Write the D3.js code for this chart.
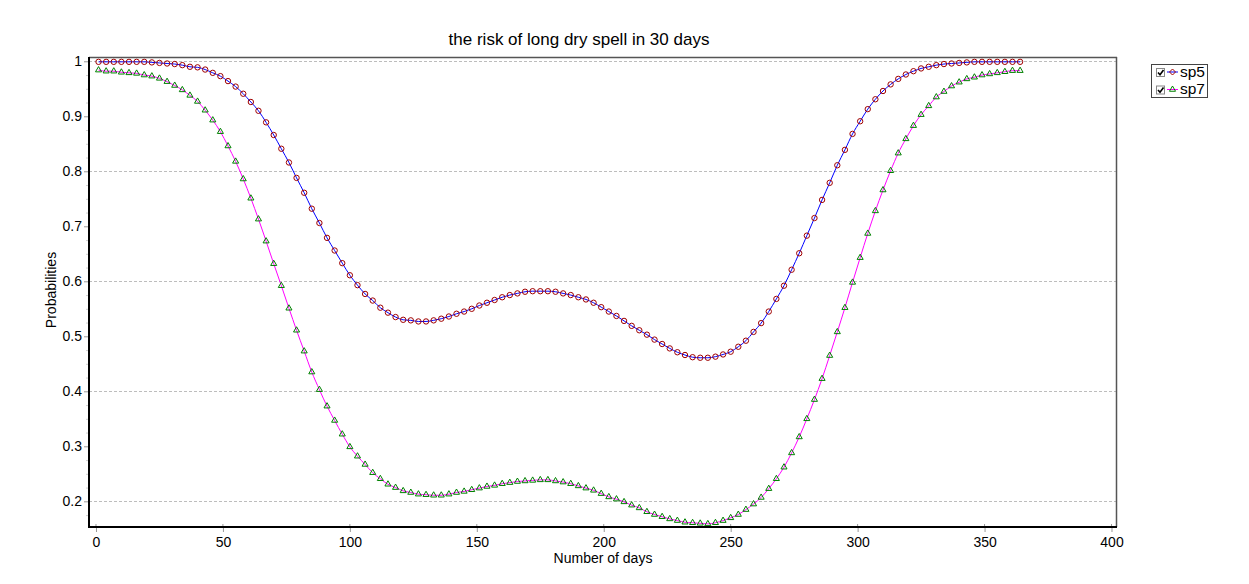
<!DOCTYPE html>
<html>
<head>
<meta charset="utf-8">
<script src="https://cdn.jsdelivr.net/npm/d3@7"></script>
<style>
  body { margin: 0; background: #fff; }
  text { font-family: "Liberation Sans", Arial, sans-serif; fill: #000; }
</style>
</head>
<body>
<div id="chart"></div>
<script>

////////////////////
// DATA

var days = [1, 4, 7, 10, 13, 16, 19, 22, 25, 28, 31, 34, 37, 40, 43, 46, 49, 52, 55, 58,
  61, 64, 67, 70, 73, 76, 79, 82, 85, 88, 91, 94, 97, 100, 103, 106, 109, 112, 115, 118,
  121, 124, 127, 130, 133, 136, 139, 142, 145, 148, 151, 154, 157, 160, 163, 166, 169, 172, 175, 178,
  181, 184, 187, 190, 193, 196, 199, 202, 205, 208, 211, 214, 217, 220, 223, 226, 229, 232, 235, 238,
  241, 244, 247, 250, 253, 256, 259, 262, 265, 268, 271, 274, 277, 280, 283, 286, 289, 292, 295, 298,
  301, 304, 307, 310, 313, 316, 319, 322, 325, 328, 331, 334, 337, 340, 343, 346, 349, 352, 355, 358,
  361, 364];

var sp5 = [0.999, 0.999, 0.999, 0.999, 0.999, 0.999, 0.999, 0.998, 0.997, 0.996, 0.995, 0.993, 0.990, 0.989, 0.985, 0.979, 0.973, 0.964, 0.954, 0.941,
  0.926, 0.910, 0.889, 0.866, 0.841, 0.816, 0.788, 0.761, 0.732, 0.706, 0.679, 0.656, 0.633, 0.611, 0.593, 0.577, 0.565, 0.552, 0.543, 0.535,
  0.530, 0.529, 0.527, 0.527, 0.529, 0.532, 0.536, 0.541, 0.545, 0.550, 0.556, 0.561, 0.566, 0.571, 0.575, 0.578, 0.581, 0.582, 0.582, 0.582,
  0.581, 0.578, 0.575, 0.571, 0.567, 0.561, 0.553, 0.545, 0.537, 0.528, 0.519, 0.511, 0.503, 0.494, 0.486, 0.478, 0.471, 0.466, 0.462, 0.461,
  0.461, 0.463, 0.467, 0.472, 0.481, 0.492, 0.508, 0.524, 0.545, 0.568, 0.592, 0.621, 0.651, 0.683, 0.715, 0.748, 0.779, 0.811, 0.839, 0.868,
  0.891, 0.913, 0.931, 0.946, 0.958, 0.968, 0.976, 0.982, 0.987, 0.990, 0.993, 0.995, 0.996, 0.997, 0.998, 0.999, 0.999, 0.999, 0.999, 0.999,
  0.999, 0.999];

var sp7 = [0.984, 0.982, 0.982, 0.980, 0.979, 0.978, 0.975, 0.973, 0.969, 0.963, 0.956, 0.948, 0.938, 0.927, 0.911, 0.893, 0.872, 0.846, 0.818, 0.786,
  0.751, 0.713, 0.673, 0.632, 0.592, 0.551, 0.511, 0.473, 0.435, 0.403, 0.373, 0.347, 0.322, 0.299, 0.282, 0.267, 0.252, 0.241, 0.231, 0.225,
  0.219, 0.216, 0.213, 0.212, 0.211, 0.211, 0.213, 0.216, 0.218, 0.221, 0.224, 0.227, 0.229, 0.232, 0.234, 0.236, 0.237, 0.238, 0.239, 0.239,
  0.237, 0.235, 0.232, 0.228, 0.224, 0.220, 0.214, 0.208, 0.204, 0.199, 0.193, 0.188, 0.181, 0.176, 0.172, 0.168, 0.165, 0.162, 0.161, 0.160,
  0.159, 0.161, 0.165, 0.170, 0.176, 0.185, 0.195, 0.207, 0.223, 0.241, 0.262, 0.288, 0.317, 0.350, 0.385, 0.423, 0.465, 0.508, 0.552, 0.598,
  0.643, 0.687, 0.728, 0.766, 0.801, 0.833, 0.859, 0.883, 0.903, 0.919, 0.935, 0.945, 0.955, 0.962, 0.968, 0.971, 0.975, 0.977, 0.979, 0.981,
  0.983, 0.983];

var xTicks = [0, 50, 100, 150, 200, 250, 300, 350, 400];
var yTicks = [0.2, 0.3, 0.4, 0.5, 0.6, 0.7, 0.8, 0.9, 1];
var yMinorTicks = [0.175, 0.225, 0.25, 0.275, 0.325, 0.35, 0.375, 0.425, 0.45, 0.475, 0.525, 0.55, 0.575,
  0.625, 0.65, 0.675, 0.725, 0.75, 0.775, 0.825, 0.85, 0.875, 0.925, 0.95, 0.975];
var yGrid = [0.2, 0.4, 0.6, 0.8, 1];
var seriesNames = ["sp5", "sp7"];

////////////////////
// LAYOUT

var width = 1249, height = 584;
var margin = {left: 89, top: 57};
var w = 1028, h = 470;

var x = d3.scaleLinear().domain([-2.757, 402.17]).range([0, w]);
var y = d3.scaleLinear().domain([0.1533, 1.0078]).range([h, 0]);

var svg = d3.select("#chart").append("svg")
  .attr("width", width)
  .attr("height", height);

svg.append("rect").attr("width", width).attr("height", height).attr("fill", "#fff");

// title
svg.append("text")
  .attr("x", 579).attr("y", 45)
  .attr("text-anchor", "middle")
  .style("font-size", "17px")
  .text("the risk of long dry spell in 30 days");

var g = svg.append("g")
  .attr("transform", "translate(" + margin.left + "," + margin.top + ")");

g.append("rect").attr("width", w).attr("height", h).attr("fill", "#fff");

////////////////////
// GRID

g.selectAll(".grid")
  .data(yGrid)
  .enter().append("line")
  .attr("class", "grid")
  .attr("x1", 0).attr("x2", w)
  .attr("y1", function(d) { return Math.round(y(d)) + 0.5; })
  .attr("y2", function(d) { return Math.round(y(d)) + 0.5; })
  .attr("stroke", "#bdbdbd")
  .attr("stroke-dasharray", "3,2");

////////////////////
// AXES

var xAxis = g.append("g")
  .attr("transform", "translate(0," + h + ")")
  .call(d3.axisBottom(x).tickValues(xTicks).tickSize(5).tickSizeOuter(0).tickPadding(5));
xAxis.select(".domain").remove();
xAxis.selectAll("line").attr("stroke", "#999");
xAxis.selectAll("text").style("font-size", "14px").attr("fill", "#000");

// inner marks at the bottom
g.selectAll(".xin")
  .data(xTicks)
  .enter().append("line")
  .attr("x1", function(d) { return x(d); })
  .attr("x2", function(d) { return x(d); })
  .attr("y1", h - 3).attr("y2", h)
  .attr("stroke", "#999");

var yMinor = g.append("g")
  .call(d3.axisLeft(y).tickValues(yMinorTicks).tickSize(3).tickSizeOuter(0).tickFormat(""));
yMinor.select(".domain").remove();
yMinor.selectAll("line").attr("stroke", "#d0d0d0");

var yAxis = g.append("g")
  .call(d3.axisLeft(y).tickValues(yTicks).tickSize(5).tickSizeOuter(0).tickPadding(2)
    .tickFormat(function(d) { return String(+d.toFixed(1)); }));
yAxis.select(".domain").remove();
yAxis.selectAll("line").attr("stroke", "#999");
yAxis.selectAll("text").style("font-size", "14px").attr("fill", "#000");

// axis titles
svg.append("text")
  .attr("x", 603).attr("y", 563)
  .attr("text-anchor", "middle")
  .style("font-size", "14px")
  .text("Number of days");

svg.append("text")
  .attr("transform", "translate(56,290) rotate(-90)")
  .attr("text-anchor", "middle")
  .style("font-size", "14px")
  .text("Probabilities");

////////////////////
// SERIES

var pts5 = days.map(function(d, i) { return [d, sp5[i]]; });
var pts7 = days.map(function(d, i) { return [d, sp7[i]]; });

var line = d3.line()
  .x(function(d) { return x(d[0]); })
  .y(function(d) { return y(d[1]); })
  .curve(d3.curveMonotoneX);

g.append("path").datum(pts7)
  .attr("d", line)
  .attr("fill", "none")
  .attr("stroke", "#ff00ff")
  .attr("stroke-width", 1);

g.append("path").datum(pts5)
  .attr("d", line)
  .attr("fill", "none")
  .attr("stroke", "#0000ff")
  .attr("stroke-width", 1);

var tri = d3.symbol().type(d3.symbolTriangle).size(16);

g.selectAll(".m7")
  .data(pts7)
  .enter().append("path")
  .attr("class", "m7")
  .attr("d", tri)
  .attr("transform", function(d) { return "translate(" + x(d[0]) + "," + y(d[1]) + ")"; })
  .attr("fill", "none")
  .attr("stroke", "#008000")
  .attr("stroke-width", 1);

g.selectAll(".m5")
  .data(pts5)
  .enter().append("circle")
  .attr("class", "m5")
  .attr("cx", function(d) { return x(d[0]); })
  .attr("cy", function(d) { return y(d[1]); })
  .attr("r", 2.7)
  .attr("fill", "none")
  .attr("stroke", "#a00000")
  .attr("stroke-width", 1);

////////////////////
// FRAME

g.append("line").attr("x1", 0).attr("x2", w).attr("y1", 0.5).attr("y2", 0.5)
  .attr("stroke", "#555").attr("stroke-width", 1.5);
g.append("line").attr("x1", w - 0.5).attr("x2", w - 0.5).attr("y1", 0).attr("y2", h)
  .attr("stroke", "#555").attr("stroke-width", 1.5);
g.append("line").attr("x1", 0).attr("x2", 0).attr("y1", 0).attr("y2", h + 1)
  .attr("stroke", "#000").attr("stroke-width", 2);
g.append("line").attr("x1", 0).attr("x2", w).attr("y1", h).attr("y2", h)
  .attr("stroke", "#000").attr("stroke-width", 2);

////////////////////
// LEGEND

var legend = svg.append("g").attr("transform", "translate(1151,64)");

legend.append("rect")
  .attr("x", 0.5).attr("y", 0.5).attr("width", 56).attr("height", 33)
  .attr("fill", "#fff").attr("stroke", "#444");

var items = legend.selectAll(".item")
  .data(seriesNames)
  .enter().append("g")
  .attr("class", "item")
  .attr("transform", function(d, i) { return "translate(0," + (i * 17.5) + ")"; });

items.append("rect")
  .attr("x", 5.5).attr("y", 4.5).attr("width", 8).attr("height", 8)
  .attr("fill", "#fff").attr("stroke", "#888");

items.append("path")
  .attr("d", "M7,8.5 L9,10.8 L12.5,6")
  .attr("fill", "none").attr("stroke", "#000").attr("stroke-width", 1.6);

items.append("line")
  .attr("x1", 16).attr("x2", 27).attr("y1", 8).attr("y2", 8)
  .attr("stroke", function(d, i) { return i == 0 ? "#0000ff" : "#ff00ff"; });

items.append("path")
  .attr("d", function(d, i) {
    return i == 0 ? "M21.5,5 L24.5,8 L21.5,11 L18.5,8 Z" : tri();
  })
  .attr("transform", function(d, i) { return i == 0 ? null : "translate(21.5,8)"; })
  .attr("fill", "none")
  .attr("stroke", function(d, i) { return i == 0 ? "#a00000" : "#008000"; });

items.append("text")
  .attr("x", 29).attr("y", 12.5)
  .style("font-size", "15.5px")
  .text(function(d) { return d; });

</script>
</body>
</html>
